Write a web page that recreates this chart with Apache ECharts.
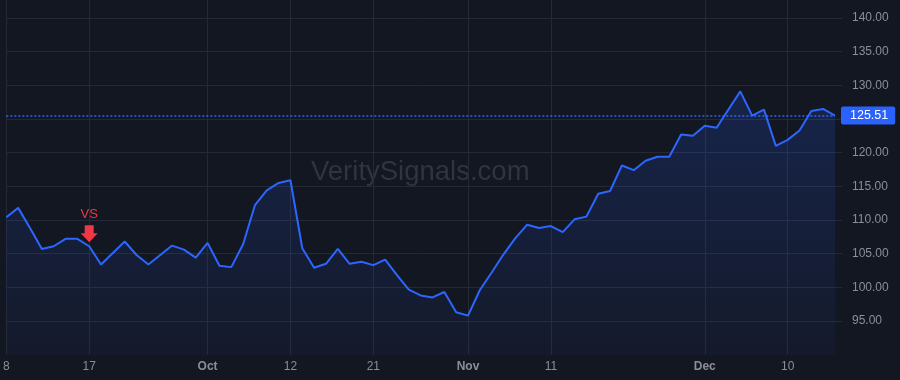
<!DOCTYPE html>
<html>
<head>
<meta charset="utf-8">
<script src="https://cdn.jsdelivr.net/npm/echarts@6/dist/echarts.min.js"></script>
<style>
html,body{margin:0;padding:0;background:#131722;}
#chart{width:900px;height:380px;}
</style>
</head>
<body>
<div id="chart"></div>
<script>
// Trading days (2020)
var dates = [
 '2020-09-08','2020-09-09','2020-09-10','2020-09-11','2020-09-14','2020-09-15','2020-09-16','2020-09-17','2020-09-18',
 '2020-09-21','2020-09-22','2020-09-23','2020-09-24','2020-09-25','2020-09-28','2020-09-29','2020-09-30',
 '2020-10-01','2020-10-02','2020-10-05','2020-10-06','2020-10-07','2020-10-08','2020-10-09','2020-10-12','2020-10-13',
 '2020-10-14','2020-10-15','2020-10-16','2020-10-19','2020-10-20','2020-10-21','2020-10-22','2020-10-23','2020-10-26',
 '2020-10-27','2020-10-28','2020-10-29','2020-10-30',
 '2020-11-02','2020-11-03','2020-11-04','2020-11-05','2020-11-06','2020-11-09','2020-11-10','2020-11-11','2020-11-12',
 '2020-11-13','2020-11-16','2020-11-17','2020-11-18','2020-11-19','2020-11-20','2020-11-23','2020-11-24','2020-11-25',
 '2020-11-27','2020-11-30',
 '2020-12-01','2020-12-02','2020-12-03','2020-12-04','2020-12-07','2020-12-08','2020-12-09','2020-12-10','2020-12-11',
 '2020-12-14','2020-12-15','2020-12-16'
];
var prices = [
 110.4,111.8,108.8,105.7,106.1,107.2,107.2,106.1,103.4,
 105.1,106.8,104.8,103.4,104.8,106.2,105.6,104.4,
 106.6,103.2,103.0,106.4,112.2,114.4,115.5,115.9,105.8,
 102.9,103.5,105.7,103.5,103.8,103.3,104.1,101.8,99.65,
 98.8,98.5,99.3,96.3,
 95.8,99.6,102.2,104.9,107.3,109.3,108.8,109.1,108.2,
 110.1,110.5,113.9,114.3,118.1,117.4,118.8,119.4,119.4,
 122.7,122.5,
 124.0,123.7,126.4,129.1,125.5,126.4,121.0,121.9,123.3,
 126.2,126.5,125.51
];
// x tick labels
var xTickDates  = ['2020-09-08','2020-09-17','2020-10-01','2020-10-12','2020-10-21','2020-11-02','2020-11-11','2020-12-01','2020-12-10'];
var xTickTexts  = ['8','17','Oct','12','21','Nov','11','Dec','10'];
var xTickMonth  = [false,false,true,false,false,true,false,true,false];
var yTicks = [95,100,105,110,115,120,125,130,135,140];
var lastPrice = 125.51;
var signalDate = '2020-09-17';
var signalText = 'VS';
var watermark = 'VeritySignals.com';

var signalValue = prices[dates.indexOf(signalDate)];
var tickIdx = xTickDates.map(function(d){return dates.indexOf(d);});
function isTick(i){ return tickIdx.indexOf(i) >= 0; }

var chart = echarts.init(document.getElementById('chart'), null, {renderer:'canvas'});
var gridColor = '#252935';
var FONT = '"Liberation Sans", Arial, sans-serif';
var option = {
  backgroundColor: '#131722',
  animation: false,
  graphic: [{
    type: 'text', left: 311, top: 158, silent: true, z: 0,
    style: { text: watermark, fill: '#30343f', font: '27.5px "Liberation Sans", Arial, sans-serif' }
  }],
  grid: { left: 5, right: 65, top: 0, bottom: 25.35, containLabel: false },
  xAxis: {
    type: 'category', data: dates, boundaryGap: false,
    axisLine: { show: false }, axisTick: { show: false },
    splitLine: { show: true, interval: function(i){return isTick(i);}, lineStyle: { color: gridColor, width: 1 } },
    axisLabel: {
      interval: function(i){return isTick(i);},
      margin: 6, color: '#8b8e97', fontSize: 12, fontFamily: FONT,
      formatter: function(v){
        var k = xTickDates.indexOf(v);
        if (k < 0) return '';
        return xTickMonth[k] ? '{b|' + xTickTexts[k] + '}' : xTickTexts[k];
      },
      rich: { b: { fontWeight: 'bold', color: '#8b8e97', fontSize: 12, fontFamily: FONT } }
    }
  },
  yAxis: {
    type: 'value', position: 'right', min: 90, max: 142.673, interval: 5,
    axisLine: { show: false },
    axisTick: { show: true, length: 7, inside: false, lineStyle: { color: gridColor } },
    splitLine: { show: true, showMinLine: false, showMaxLine: false, lineStyle: { color: gridColor, width: 1 } },
    axisLabel: {
      margin: 17, color: '#8b8e97', fontSize: 12, fontFamily: FONT,
      showMinLabel: false, showMaxLabel: false,
      formatter: function(v){ return yTicks.indexOf(v) >= 0 ? v.toFixed(2) : ''; }
    }
  },
  series: [{
    type: 'line', data: prices, symbol: 'none', smooth: false, z: 3,
    lineStyle: { color: '#2c66ff', width: 2 },
    areaStyle: {
      color: new echarts.graphic.LinearGradient(0,0,0,1,[
        {offset:0, color:'rgba(41,98,255,0.26)'},
        {offset:1, color:'rgba(41,98,255,0.06)'}
      ])
    },
    markLine: {
      silent: true, symbol: ['none','none'],
      lineStyle: { color: '#2c66ff', type: [2,2], width: 1.5, opacity: 1 },
      label: {
        show: true, position: 'end', distance: 6,
        formatter: function(){ return lastPrice.toFixed(2); },
        color: '#ffffff', backgroundColor: '#2962ff', borderRadius: 2,
        padding: [3,7,2,9], fontSize: 12.5, fontFamily: FONT
      },
      data: [{ yAxis: lastPrice }]
    },
    markPoint: {
      silent: true,
      data: [{
        coord: [signalDate, signalValue],
        symbol: 'path://M4,0 L13,0 L13,8 L17,8 L8.5,17 L0,8 L4,8 Z',
        symbolSize: [17,17], symbolOffset: [0,-12.6],
        itemStyle: { color: '#f23645' },
        label: {
          show: true, position: 'top', distance: 4, formatter: signalText,
          color: '#f23645', fontSize: 13, fontFamily: FONT
        }
      }]
    }
  }]
};
chart.setOption(option);
</script>
</body>
</html>
